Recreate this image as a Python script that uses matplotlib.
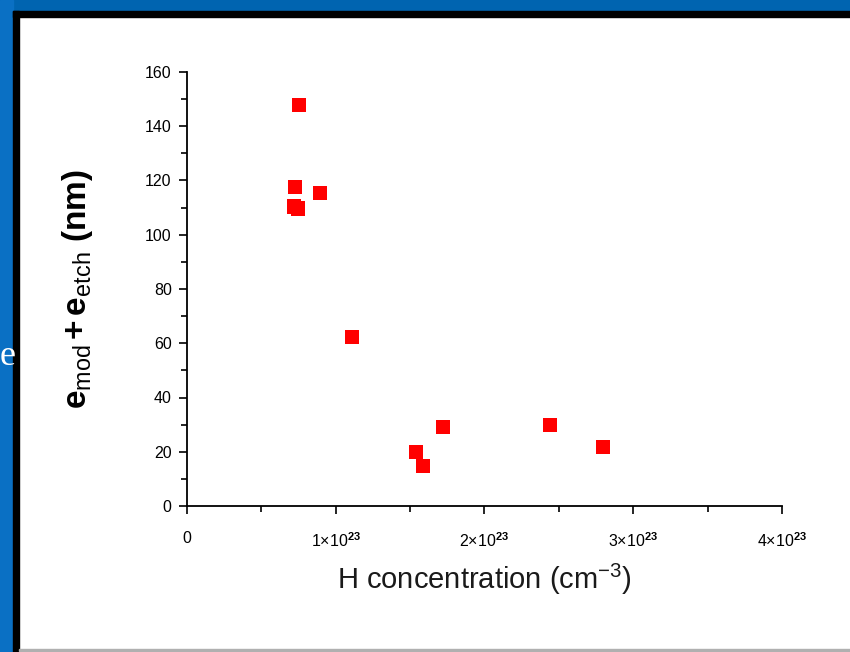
import matplotlib
matplotlib.use("Agg")
import matplotlib.pyplot as plt
from matplotlib.patches import Rectangle
from matplotlib.ticker import MultipleLocator, FuncFormatter

plt.rcParams['font.family'] = ['Liberation Sans', 'DejaVu Sans']
plt.rcParams['mathtext.fontset'] = 'custom'
plt.rcParams['mathtext.rm'] = 'Liberation Sans'
plt.rcParams['mathtext.it'] = 'Liberation Sans'
plt.rcParams['mathtext.bf'] = 'Liberation Sans:bold'

# Hydrogen concentration (units of 1e23 cm^-3) and modified + etched thickness (nm)
h_conc = [0.753, 0.726, 0.72, 0.745, 0.894, 1.109, 1.54, 1.587, 1.72, 2.44, 2.797]
thickness = [147.8, 117.6, 110.5, 109.6, 115.4, 62.3, 19.9, 14.7, 29.1, 29.9, 21.7]

fig = plt.figure(figsize=(8.5, 6.52), dpi=100)
fig.patch.set_facecolor('white')

# slide frame: blue background, black edge, white panel
W, H = 850, 652
def px_rect(x, y, w, h, color):
    fig.patches.append(Rectangle((x / W, 1 - (y + h) / H), w / W, h / H,
                                 transform=fig.transFigure, color=color, zorder=0))
px_rect(0, 0, 850, 11, '#0064b0')
px_rect(0, 0, 13, 652, '#0a70c4')
px_rect(13, 11, 837, 6, 'black')
px_rect(13, 11, 6, 641, 'black')
px_rect(19, 649, 831, 2, '#b0b0b0')
fig.text(0.0, 1 - 357 / H, 'e', color='white', fontsize=26,
         family='Liberation Serif', ha='left', va='center', zorder=1)

ax = fig.add_axes([187 / W, 1 - 506 / H, 595 / W, 434 / H])
ax.scatter(h_conc, thickness, marker='s', s=110, color='#ff0000',
           edgecolors='none', zorder=3, clip_on=False)

ax.set_xlim(0, 4)
ax.set_ylim(0, 160)
ax.xaxis.set_major_locator(MultipleLocator(1))
ax.xaxis.set_minor_locator(MultipleLocator(0.5))
ax.yaxis.set_major_locator(MultipleLocator(20))
ax.yaxis.set_minor_locator(MultipleLocator(10))

def xfmt(v, pos):
    if abs(v) < 1e-9:
        return '0'
    return r'%d$\times$10$^{\mathbf{23}}$' % round(v)
ax.xaxis.set_major_formatter(FuncFormatter(xfmt))

for s in ['top', 'right']:
    ax.spines[s].set_visible(False)
for s in ['left', 'bottom']:
    ax.spines[s].set_linewidth(1.3)
ax.tick_params(which='major', direction='out', length=6, width=1.2,
               labelsize=11.5, pad=5)
ax.tick_params(which='minor', direction='out', length=4, width=1.2)
ax.tick_params(axis='x', which='major', pad=12)

ax.set_xlabel(r'H concentration (cm$^{-3}$)', fontsize=21, labelpad=9,
              color='#1a1a1a')
ax.set_ylabel(r'$\mathbf{e}_{\mathrm{mod}}\,\mathbf{+}\,\mathbf{e}_{\mathrm{etch}}$ (nm)',
              fontsize=24, fontweight='bold', labelpad=36)

fig.savefig('out.png', dpi=100)
